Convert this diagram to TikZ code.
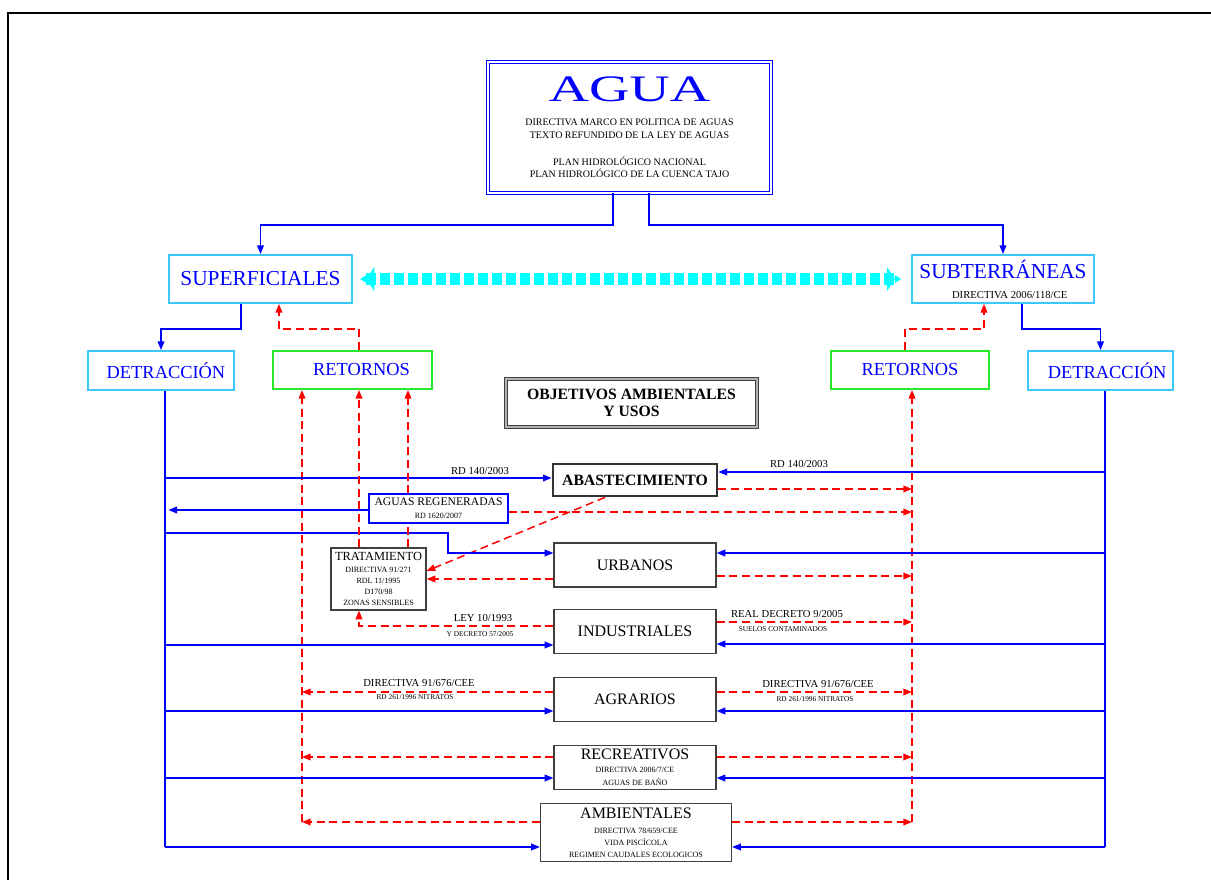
\documentclass[tikz,border=0pt]{standalone}
\usepackage{fontspec}
\setmainfont{Liberation Serif}
\usepackage{graphicx}
\usetikzlibrary{arrows.meta,calc}
\definecolor{celeste}{RGB}{60,200,250}
\definecolor{cian}{RGB}{0,255,255}
\definecolor{verde}{RGB}{40,230,40}
\begin{document}
\begin{tikzpicture}[line join=miter,x=0.75pt,y=-0.75pt,>={Triangle[length=6.5pt,width=5pt]},
azul/.style={draw=blue,line width=1.1pt},
rojo/.style={draw=red,line width=1.1pt,dash pattern=on 6pt off 3.5pt},
caja/.style={draw=black!75,line width=0.9pt,fill=white,inner sep=0pt,minimum width=121.5pt,minimum height=33pt,font=\fontsize{12}{14}\selectfont},
cajacel/.style={draw=celeste,line width=1.4pt,fill=white,inner sep=0pt,text=blue,font=\fontsize{13.8}{16}\selectfont,minimum height=29.25pt},
cajaver/.style={cajacel,draw=verde},
etq/.style={inner sep=0pt,font=\fontsize{8}{9}\selectfont},
etqp/.style={inner sep=0pt,font=\fontsize{5.5}{6.5}\selectfont},
cianflecha/.style={draw=cian,line width=9pt,dash pattern=on 7.5pt off 3pt,shorten <=3pt,shorten >=5pt,
 {Triangle[length=4.5pt,width=6pt,line width=0pt,sep=2.5pt] Triangle[length=6pt,width=18pt,line width=0pt]}-{Triangle[length=6pt,width=18pt,line width=0pt] Triangle[length=4.5pt,width=6pt,line width=0pt,sep=2.5pt]}}]
\useasboundingbox (0,0) rectangle (1211,880);
\draw[black,line width=1.1pt] (8,880) -- (8,13) -- (1211,13);

\node[draw=blue,line width=0.9pt,double=white,double distance=1.5pt,fill=white,inner sep=0pt,minimum width=212pt,minimum height=98pt,align=center,font=\fontsize{7.5}{9.5}\selectfont] (agua) at (629.5,127.5)
 {{\fontsize{28}{30}\selectfont\color{blue}\scalebox{1.5}[1]{AGUA}}\\[8.5pt]DIRECTIVA MARCO EN POLITICA DE AGUAS\\TEXTO REFUNDIDO DE LA LEY DE AGUAS\\[10.5pt]PLAN HIDROLÓGICO NACIONAL\\PLAN HIDROLÓGICO DE LA CUENCA TAJO};

\node[cajacel,minimum width=137.25pt,minimum height=36pt,font=\fontsize{16}{18}\selectfont] (sup) at (260.5,279) {SUPERFICIALES};
\node[cajacel,minimum width=136.5pt,minimum height=36pt,align=center,font=\fontsize{8}{10}\selectfont] (sub) at (1003,279) {{\fontsize{16}{18}\selectfont SUBTERRÁNEAS}\\[5pt]{\color{black}\hspace{10pt}DIRECTIVA 2006/118/CE}};
\node[cajacel,minimum width=109.5pt] (det1) at (161,370.5) {\hspace{7.5pt}DETRACCIÓN};
\node[cajaver,minimum width=119.25pt,minimum height=28.5pt] (ret1) at (352.5,370) {\hspace{13.5pt}RETORNOS};
\node[cajaver,minimum width=118.5pt,minimum height=28.5pt] (ret2) at (910,370) {RETORNOS};
\node[cajacel,minimum width=108.75pt] (det2) at (1100.5,370.5) {\hspace{10pt}DETRACCIÓN};

\node[draw=black!75,line width=0.8pt,double=black!30,double distance=1.5pt,fill=white,inner sep=0pt,minimum width=188.25pt,minimum height=36pt,align=center,font=\bfseries\fontsize{11.8}{12.75}\selectfont] (obj) at (631.5,403) {OBJETIVOS AMBIENTALES\\Y USOS};

\node[caja,draw=black!80,line width=2pt,minimum width=123pt,minimum height=24pt,font=\bfseries\fontsize{11.8}{14}\selectfont] (abast) at (635,480) {ABASTECIMIENTO};
\node[caja,draw=blue,line width=0.8pt,minimum width=104.25pt,minimum height=21.75pt,align=center,font=\fontsize{6}{8}\selectfont] (areg) at (438.5,508.5) {{\fontsize{8.7}{10}\selectfont AGUAS REGENERADAS}\\[1.75pt]RD 1620/2007};
\node[caja,minimum width=71.25pt,minimum height=46.5pt,align=center,font=\fontsize{6}{8.25}\selectfont] (trat) at (378.5,579) {{\fontsize{9.3}{11}\selectfont TRATAMIENTO}\\[0.75pt]DIRECTIVA 91/271\\RDL 11/1995\\D170/98\\ZONAS SENSIBLES};
\node[caja] (urb) at (635,565) {URBANOS};
\node[caja] (ind) at (635,631.5) {INDUSTRIALES};
\node[caja] (agr) at (635,699.5) {AGRARIOS};
\node[caja,align=center,font=\fontsize{6}{9.75}\selectfont] (rec) at (635,767.5) {{\fontsize{12}{14}\selectfont RECREATIVOS}\\DIRECTIVA 2006/7/CE\\AGUAS DE BAÑO};
\node[caja,minimum width=143.25pt,minimum height=43.5pt,align=center,font=\fontsize{6}{9}\selectfont] (amb) at (636,832.5) {{\fontsize{12}{14}\selectfont AMBIENTALES}\\[2.25pt]DIRECTIVA 78/659/CEE\\VIDA PISCÍCOLA\\REGIMEN CAUDALES ECOLOGICOS};

\draw[azul,->] (agua.south -| 613,0) -- (613,225) -| (sup.north);
\draw[azul,->] (agua.south -| 649,0) -- (649,225) -| (sub.north);
\draw[cianflecha] (sup) -- (sub);
\draw[azul,->] (sup.south -| 241,0) -- (241,329) -| (det1.north);
\draw[rojo,->] (ret1.north -| 359,0) -- (359,329) -| (sup.south -| 279,0);
\draw[azul,->] (sub.south -| 1022,0) -- (1022,329) -| (det2.north);
\draw[rojo,->] (ret2.north -| 905,0) -- (905,329) -| (sub.south -| 984,0);

\coordinate (vizq) at (165,847);
\coordinate (vder) at (1105,847);
\coordinate (rizq) at (302,822);
\coordinate (rder) at (912,822);
\draw[azul] (det1.south -| vizq) -- (vizq);
\draw[azul] (det2.south -| vder) -- (vder);
\draw[rojo,->] (rizq) -- (ret1.south -| rizq);
\draw[rojo,->] (rder) -- (ret2.south -| rder);

\draw[azul,->] (vizq |- 0,478) -- (abast.west |- 0,478);
\draw[azul,->] (vder |- 0,472) -- (abast.east |- 0,472);
\draw[rojo,->] (abast.east |- 0,489) -- (rder |- 0,489);
\draw[rojo,->] ($(abast.south)+(-30,0)$) -- (trat.east |- 0,571);
\draw[azul,->,shorten >=2.5pt] (areg.west |- 0,510) -- (vizq |- 0,510);
\draw[rojo,->] (areg.east |- 0,512) -- (rder |- 0,512);
\draw[azul,->] (vizq |- 0,533) -| (448,553) -- (urb.west |- 0,553);
\draw[azul,->] (vder |- 0,553) -- (urb.east |- 0,553);
\draw[rojo,->] (urb.east |- 0,576) -- (rder |- 0,576);
\draw[rojo,->] (urb.west |- 0,579) -- (trat.east |- 0,579);
\draw[rojo,->] (trat.north -| 359,0) -- (ret1.south -| 359,0);
\draw[rojo] (trat.north -| 408,0) -- (areg.south -| 408,0);
\draw[rojo,->] (areg.north -| 408,0) -- (ret1.south -| 408,0);
\draw[rojo,->] (ind.west |- 0,626) -| (trat.south -| 359,0);
\draw[rojo,->] (ind.east |- 0,622) -- (rder |- 0,622);
\draw[azul,->] (vizq |- 0,645) -- (ind.west |- 0,645);
\draw[azul,->] (vder |- 0,644) -- (ind.east |- 0,644);
\draw[rojo,->] (agr.west |- 0,692) -- (rizq |- 0,692);
\draw[rojo,->] (agr.east |- 0,692) -- (rder |- 0,692);
\draw[azul,->] (vizq |- 0,711) -- (agr.west |- 0,711);
\draw[azul,->] (vder |- 0,711) -- (agr.east |- 0,711);
\draw[rojo,->] (rec.west |- 0,757) -- (rizq |- 0,757);
\draw[rojo,->] (rec.east |- 0,757) -- (rder |- 0,757);
\draw[azul,->] (vizq |- 0,778) -- (rec.west |- 0,778);
\draw[azul,->] (vder |- 0,778) -- (rec.east |- 0,778);
\draw[rojo,->] (amb.west |- rizq) -- (rizq);
\draw[rojo,->] (amb.east |- rder) -- (rder);
\draw[azul,->] (vizq) -- (amb.west |- vizq);
\draw[azul,->] (vder) -- (amb.east |- vder);

\node[etq] (l-rd1) at (480,471) {RD 140/2003};
\node[etq] (l-rd2) at (799,464) {RD 140/2003};
\node[etq] (l-ley) at (483,618) {LEY 10/1993};
\node[etqp] (l-dec) at (480,634) {Y DECRETO 57/2005};
\node[etq] (l-real) at (787,614) {REAL DECRETO 9/2005};
\node[etqp] (l-suel) at (783,629) {SUELOS CONTAMINADOS};
\node[etq] (l-dir1) at (419,683) {DIRECTIVA 91/676/CEE};
\node[etqp] (l-nit1) at (415,697) {RD 261/1996 NITRATOS};
\node[etq] (l-dir2) at (818,684) {DIRECTIVA 91/676/CEE};
\node[etqp] (l-nit2) at (815,699) {RD 261/1996 NITRATOS};
\end{tikzpicture}
\end{document}
